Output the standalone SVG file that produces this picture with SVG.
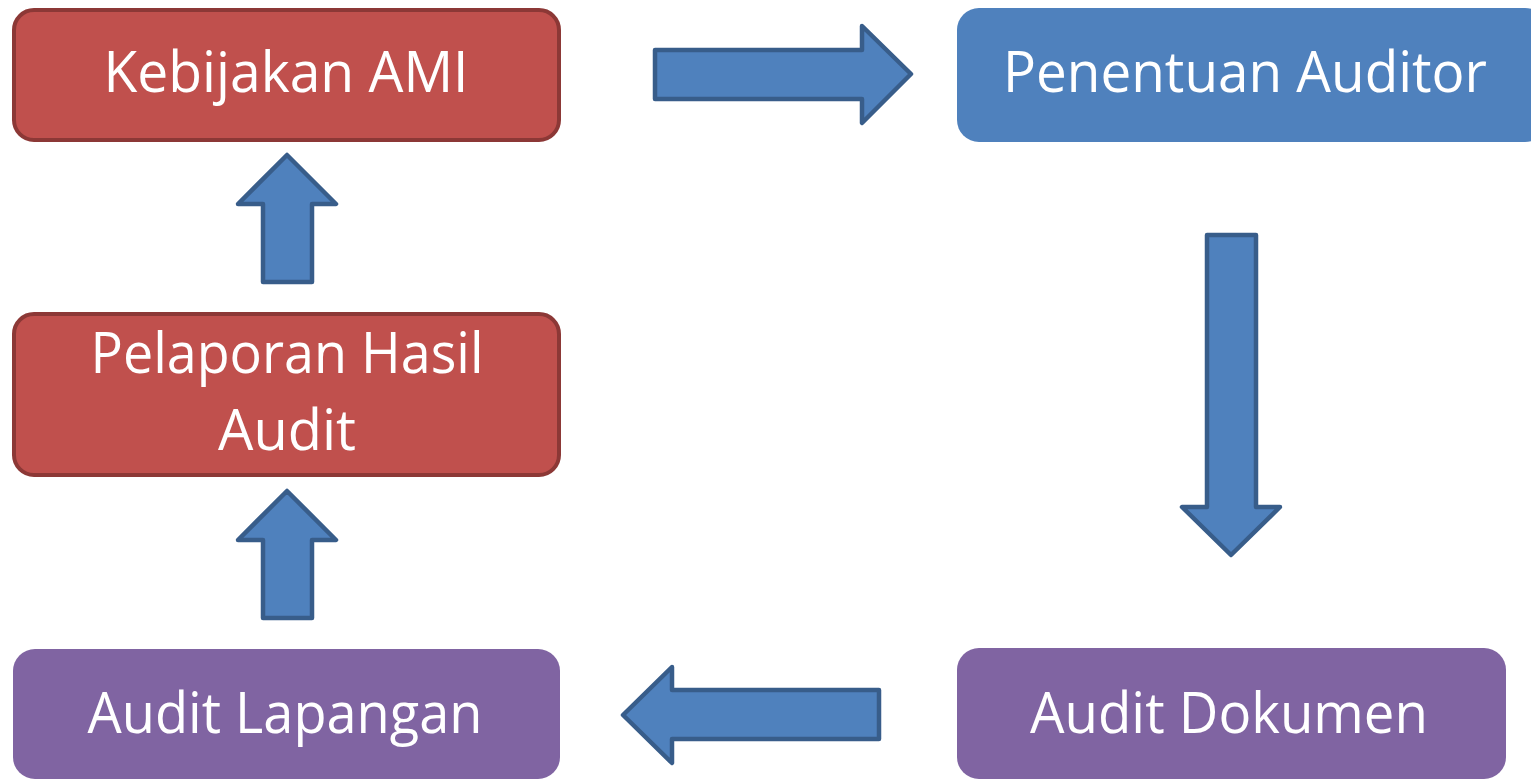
<svg xmlns="http://www.w3.org/2000/svg" width="1531" height="779" viewBox="0 0 1531 779">
<style>
.red{fill:#C0504D;stroke:#8C3836;stroke-width:4}
.blue{fill:#4F81BD}
.purple{fill:#8064A2}
.arr{fill:#4F81BD;stroke:#385D8A;stroke-width:4.5;stroke-linejoin:round}
.t{font-family:"Open Sans","Liberation Sans",sans-serif;font-size:56px;fill:#FFFFFF;text-anchor:middle}
</style>
<rect width="1531" height="779" fill="#FFFFFF"/>
<g id="connectors">
<polygon class="arr" points="655,50 862,50 862,26 911,74 862,123 862,99 655,99"/>
<polygon class="arr" points="1207,235 1256,235 1256,507 1280,507 1231,555 1182,507 1207,507"/>
<polygon class="arr" points="879,690 672,690 672,667 623,715 672,763 672,739 879,739"/>
<polygon class="arr" points="312,618 263,618 263,540 238,540 287,491 336,540 312,540"/>
<polygon class="arr" points="312,282 263,282 263,204 238,204 287,155 336,204 312,204"/>
</g>
<g id="kebijakan">
<rect class="red" x="14" y="10" width="545" height="130" rx="20"/>
<text class="t" x="286" y="92" textLength="365" lengthAdjust="spacingAndGlyphs">Kebijakan AMI</text>
</g>
<g id="penentuan">
<rect class="blue" x="957" y="8" width="590" height="134" rx="22"/>
<text class="t" x="1245" y="92" textLength="484" lengthAdjust="spacingAndGlyphs">Penentuan Auditor</text>
</g>
<g id="pelaporan">
<rect class="red" x="14" y="314" width="545" height="161" rx="20"/>
<text class="t" x="287" y="373" textLength="393" lengthAdjust="spacingAndGlyphs">Pelaporan Hasil</text>
<text class="t" x="287" y="450" textLength="138" lengthAdjust="spacingAndGlyphs">Audit</text>
</g>
<g id="lapangan">
<rect class="purple" x="13" y="649" width="547" height="130" rx="22"/>
<text class="t" x="285" y="733" textLength="395" lengthAdjust="spacingAndGlyphs">Audit Lapangan</text>
</g>
<g id="dokumen">
<rect class="purple" x="957" y="648" width="549" height="131" rx="22"/>
<text class="t" x="1229" y="733" textLength="398" lengthAdjust="spacingAndGlyphs">Audit Dokumen</text>
</g>
</svg>
